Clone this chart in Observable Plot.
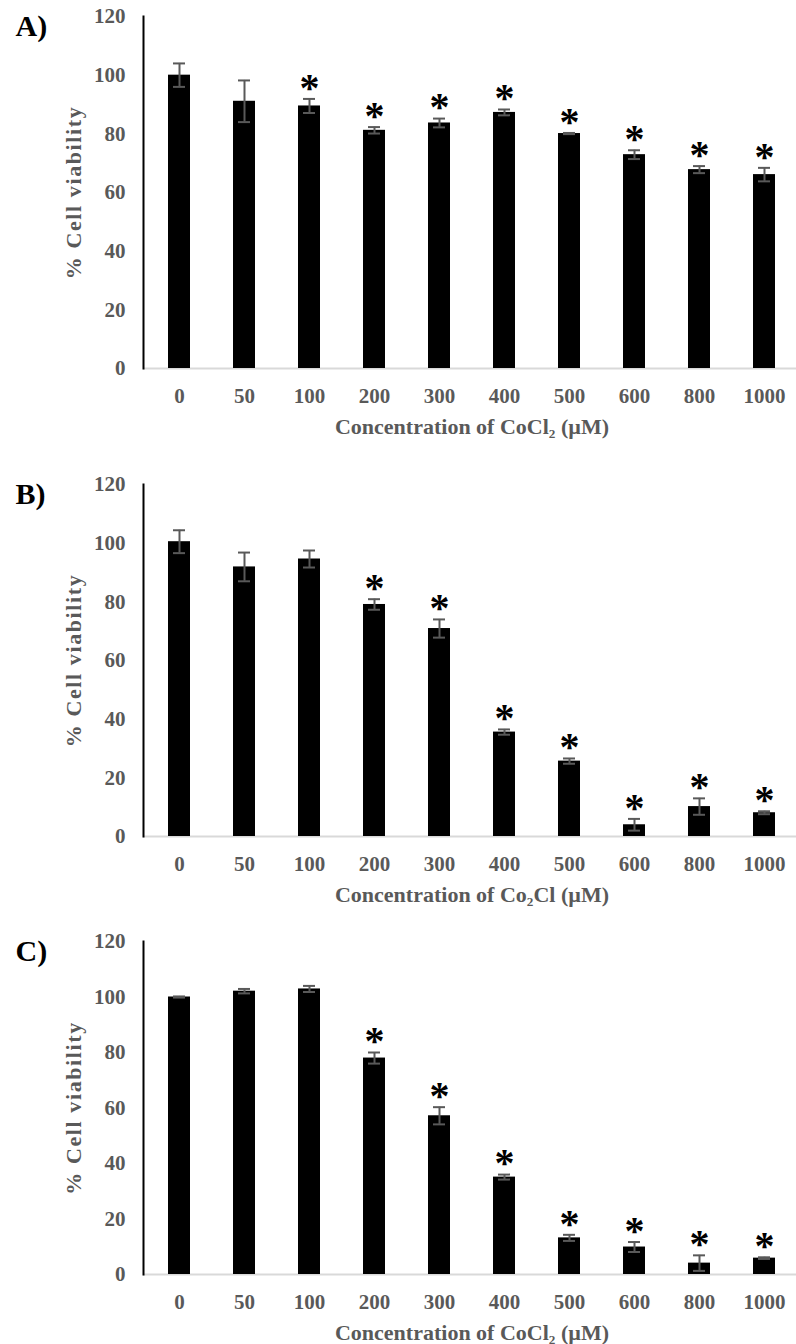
<!DOCTYPE html>
<html><head><meta charset="utf-8">
<script src="https://cdn.jsdelivr.net/npm/d3@7"></script>
<script src="https://cdn.jsdelivr.net/npm/@observablehq/plot@0.6"></script>
<style>
body{margin:0;background:#fff;width:796px;height:1344px;overflow:hidden}
#chart svg{display:block}
</style></head><body><div id="chart"></div>
<script>
const concentrations = ["0","50","100","200","300","400","500","600","800","1000"];
const yTicks = [0,20,40,60,80,100,120];

const valuesA = [100, 91.1, 89.5, 81.2, 83.7, 87.3, 80.1, 72.9, 67.8, 66.1];
const errorsA = [4.0, 7.1, 2.4, 1.1, 1.5, 1.0, 0.2, 1.5, 1.2, 2.3];
const sigA    = [0, 0, 1, 1, 1, 1, 1, 1, 1, 1];

const valuesB = [100.5, 91.9, 94.6, 79.1, 70.9, 35.6, 25.7, 4.0, 10.2, 8.1];
const errorsB = [3.9, 4.9, 2.9, 1.8, 3.1, 0.9, 0.9, 2.0, 2.8, 0.5];
const sigB    = [0, 0, 0, 1, 1, 1, 1, 1, 1, 1];

const valuesC = [100, 102.1, 102.9, 78.0, 57.2, 35.1, 13.2, 9.9, 4.1, 5.9];
const errorsC = [0.2, 0.8, 1.1, 2.0, 3.1, 0.9, 1.1, 1.8, 2.8, 0.3];
const sigC    = [0, 0, 0, 1, 1, 1, 1, 1, 1, 1];

const yTitle = "% Cell viability";
const xTitleA = "Concentration of CoCl₂ (µM)";
const xTitleB = "Concentration of Co₂Cl (µM)";
const xTitleC = "Concentration of CoCl₂ (µM)";

const grey = "#595959";

function panel({label, values, errors, sig, xTitle, height, marginTop, marginBottom}) {
  const data = concentrations.map((c, i) => ({c, v: values[i], e: errors[i], s: sig[i]}));
  const svg = Plot.plot({
    width: 796, height, marginTop, marginBottom, marginLeft: 143, marginRight: -4,
    style: {fontFamily: "'Liberation Serif', 'Times New Roman', serif", fontWeight: "bold", fontSize: "21px", color: grey, background: "white"},
    x: {domain: concentrations, paddingInner: 0.66, paddingOuter: 0.33, label: null},
    y: {domain: [0, 120], label: null},
    marks: [
      Plot.ruleY([0], {stroke: "#d9d9d9", strokeWidth: 2}),
      Plot.barY(data, {x: "c", y: "v", fill: "black"}),
      Plot.ruleX(data, {x: "c", y1: d => d.v - d.e, y2: d => d.v + d.e, stroke: grey, strokeWidth: 2}),
      Plot.tickY(data, {x: "c", y: d => d.v + d.e, stroke: grey, strokeWidth: 2, insetLeft: 5, insetRight: 5}),
      Plot.tickY(data, {x: "c", y: d => d.v - d.e, stroke: grey, strokeWidth: 2, insetLeft: 5, insetRight: 5}),
      Plot.text(data.filter(d => d.s), {x: "c", y: d => d.v + d.e, text: () => "*", dy: -11, fontSize: 40, fill: "black", lineAnchor: "middle"}),
      Plot.axisY({ticks: yTicks, tickSize: 0, tickPadding: 18, label: null}),
      Plot.axisX({tickSize: 0, tickPadding: 20, label: null}),
      Plot.frame({anchor: "left", stroke: "black", strokeWidth: 2}),
      Plot.text([xTitle], {text: d => d, frameAnchor: "bottom", textAnchor: "middle", dy: 58, lineAnchor: "middle", fontSize: 22}),
      Plot.text([yTitle], {text: d => d, frameAnchor: "left", textAnchor: "middle", rotate: -90, dx: -70, fontSize: 22, lineAnchor: "middle"}),
      Plot.text([label], {text: d => d, frameAnchor: "top-left", textAnchor: "start", dx: -128, dy: 10, fontSize: 30, fill: "black", lineAnchor: "middle"})
    ]
  });
  d3.select(svg).selectAll("text").filter(function() { return this.textContent === yTitle; })
    .style("letter-spacing", "1.6px");
  return svg;
}

const root = document.getElementById("chart");
root.append(panel({label: "A)", values: valuesA, errors: errorsA, sig: sigA, xTitle: xTitleA, height: 460, marginTop: 16, marginBottom: 92}));
root.append(panel({label: "B)", values: valuesB, errors: errorsB, sig: sigB, xTitle: xTitleB, height: 460, marginTop: 24, marginBottom: 84}));
root.append(panel({label: "C)", values: valuesC, errors: errorsC, sig: sigC, xTitle: xTitleC, height: 424, marginTop: 21, marginBottom: 70}));
</script></body></html>
